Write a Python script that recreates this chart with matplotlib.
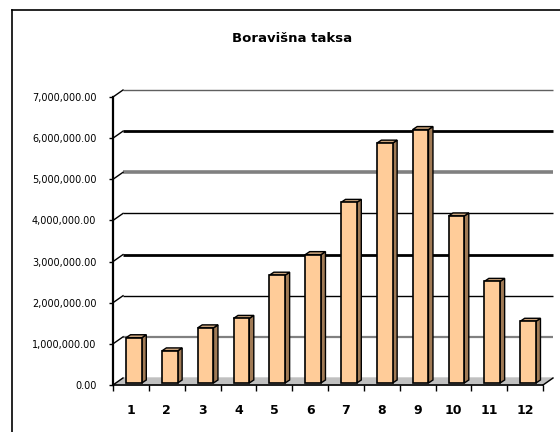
import matplotlib.pyplot as plt
from matplotlib.ticker import FuncFormatter
from matplotlib.lines import Line2D

plt.rcParams['font.family'] = ['DejaVu Sans']

# data
months = [1, 2, 3, 4, 5, 6, 7, 8, 9, 10, 11, 12]
values = [1.10e6, 0.78e6, 1.34e6, 1.57e6, 2.62e6, 3.12e6,
          4.39e6, 5.83e6, 6.16e6, 4.06e6, 2.47e6, 1.50e6]
y_ticks = [0, 1e6, 2e6, 3e6, 4e6, 5e6, 6e6, 7e6]

# gridline look on the back wall (odd excel rendering)
grid_colors = ['#a0a0a0', '#808080', 'black', 'black', 'black', '#808080', 'black', '#606060']
grid_widths = [0, 1.6, 1.0, 2.0, 1.0, 2.6, 2.0, 1.0]

W, H = 560, 432
fig = plt.figure(figsize=(W / 100, H / 100), dpi=100)
ax_l, ax_b, ax_w, ax_h = 113, 47, 430, 288
ax = fig.add_axes([ax_l / W, ax_b / H, ax_w / W, ax_h / H])
ax.set_xlim(0.5, 12.5)
ax.set_ylim(0, 7e6)
ax.patch.set_visible(False)

# pixel -> data units
px_x = 12 / ax_w
px_y = 7e6 / ax_h
dx, dy = 10 * px_x, 7 * px_y  # depth of back wall

# floor
ax.fill([0.5, 12.5, 12.5 + dx, 0.5 + dx], [0, 0, dy, dy],
        color='#c0c0c0', zorder=1, clip_on=False)

# back wall gridlines and left diagonals
for v, c, lw in zip(y_ticks, grid_colors, grid_widths):
    if v > 0:
        ax.plot([0.5 + dx, 12.5 + dx], [v + dy, v + dy], color=c, lw=lw,
                zorder=2, clip_on=False, solid_capstyle='butt')
    ax.plot([0.5, 0.5 + dx], [v, v + dy], color='black', lw=1.0,
            zorder=3, clip_on=False)
ax.plot([12.5, 12.5 + dx], [0, dy], color='black', lw=1.0, zorder=3, clip_on=False)

# 3d bars
bw = 0.44
sx, sy = 3 * px_x, 2 * px_y
ddx, ddy = 4.5 * px_x, 3 * px_y
for m, v in zip(months, values):
    x0 = m - bw / 2 + sx
    x1 = m + bw / 2 + sx
    b = sy
    t = sy + v
    ax.fill([x1, x1 + ddx, x1 + ddx, x1], [b, b + ddy, t + ddy, t],
            facecolor='#a07a55', edgecolor='black', lw=1.0, zorder=5, clip_on=False)
    ax.fill([x0, x1, x1 + ddx, x0 + ddx], [t, t, t + ddy, t + ddy],
            facecolor='#c9a27a', edgecolor='black', lw=1.0, zorder=5, clip_on=False)
ax.bar([m + sx for m in months], values, width=bw, bottom=sy,
       color='#ffcc99', edgecolor='black', lw=1.2, zorder=6, clip_on=False)

# axes
for s in ['top', 'right']:
    ax.spines[s].set_visible(False)
ax.spines['left'].set_linewidth(1.6)
ax.spines['bottom'].set_linewidth(1.2)
ax.spines['left'].set_zorder(7)
ax.spines['bottom'].set_zorder(7)

ax.set_yticks(y_ticks)
ax.yaxis.set_major_formatter(FuncFormatter(lambda v, p: '{:,.2f}'.format(v)))
ax.tick_params(axis='y', direction='out', length=3, width=1.0, pad=9, labelsize=7)

ax.set_xticks(months)
ax.set_xticklabels([str(m) for m in months], fontweight='bold')
ax.set_xticks([m + 0.5 for m in [0] + months], minor=True)
ax.tick_params(axis='x', which='major', length=0, pad=14, labelsize=9)
ax.tick_params(axis='x', which='minor', direction='out', length=4, width=1.0)

fig.text(292 / W, 1 - 38 / H, 'Boravišna taksa', ha='center', va='center',
         fontsize=9.5, fontweight='bold')

# chart area border (left and top visible)
fig.add_artist(Line2D([12 / W, 12 / W], [0, 1 - 10 / H], color='black', lw=1.2,
                      transform=fig.transFigure))
fig.add_artist(Line2D([12 / W, 1], [1 - 10 / H, 1 - 10 / H], color='black', lw=1.2,
                      transform=fig.transFigure))

fig.savefig('out.png', dpi=100)
